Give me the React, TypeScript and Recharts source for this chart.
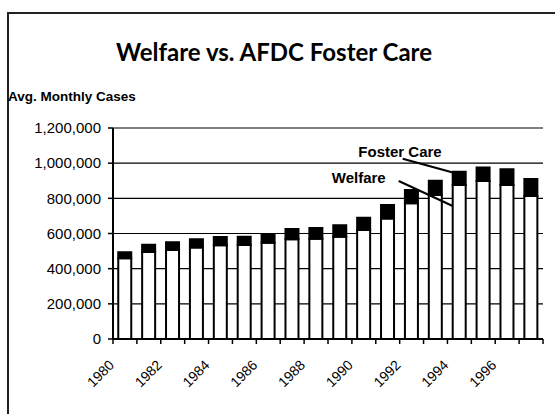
import { BarChart, Bar, XAxis, YAxis, CartesianGrid, LabelList } from 'recharts';

const years = [
  '1980', '1981', '1982', '1983', '1984', '1985', '1986', '1987', '1988',
  '1989', '1990', '1991', '1992', '1993', '1994', '1995', '1996', '1997',
];
// avg. monthly cases
const welfare = [
  459000, 495000, 506000, 521000, 533000, 535000, 548000, 567000, 570000,
  582000, 620000, 686000, 772000, 819000, 876000, 899000, 876000, 813000,
];
const fosterCare = [
  34000, 41000, 44000, 46000, 47000, 47000, 49000, 59000, 61000,
  65000, 70000, 76000, 75000, 81000, 75000, 77000, 89000, 97000,
];
const yTicks = [0, 200000, 400000, 600000, 800000, 1000000, 1200000];

const data = years.map((year, i) => ({
  year,
  welfare: welfare[i],
  fosterCare: fosterCare[i],
}));

const CHART_W = 555;
const CHART_H = 414;
const margin = { top: 128, right: 12, bottom: 15, left: 0 };
const Y_AXIS_W = 113;
const PLOT_W = CHART_W - margin.left - margin.right - Y_AXIS_W;
const HALF_BAND = PLOT_W / years.length / 2;
const LABEL_INDEX = 14;

const font = 'Arial, "Liberation Sans", Helvetica, sans-serif';

function YearTick(props: any) {
  const { x, y, payload, index } = props;
  const last = index === years.length - 1;
  const tx = x - 10;
  const ty = y + 27;
  return (
    <g>
      <line x1={x - HALF_BAND} x2={x - HALF_BAND} y1={y} y2={y + 5} stroke="#000" strokeWidth={1.5} />
      {last && (
        <line x1={x + HALF_BAND} x2={x + HALF_BAND} y1={y} y2={y + 5} stroke="#000" strokeWidth={1.5} />
      )}
      {index % 2 === 0 && (
        <text
          x={tx}
          y={ty}
          transform={`rotate(-45, ${tx}, ${ty})`}
          textAnchor="end"
          fontSize={14}
          fontFamily={font}
          fill="#000"
        >
          {payload.value}
        </text>
      )}
    </g>
  );
}

function FosterLabel(props: any) {
  const { x, y, index } = props;
  if (index !== LABEL_INDEX) return null;
  return (
    <g>
      <line x1={x - 50} y1={y - 13} x2={x + 1} y2={y + 1} stroke="#000" strokeWidth={2} />
      <text x={x - 11} y={y - 15} textAnchor="end" fontSize={15} fontWeight="bold" fontFamily={font} fill="#000">
        Foster Care
      </text>
    </g>
  );
}

function WelfareLabel(props: any) {
  const { x, y, index } = props;
  if (index !== LABEL_INDEX) return null;
  return (
    <g>
      <line x1={x - 54} y1={y - 4} x2={x} y2={y + 21} stroke="#000" strokeWidth={2} />
      <text x={x - 67} y={y - 2} textAnchor="end" fontSize={15} fontWeight="bold" fontFamily={font} fill="#000">
        Welfare
      </text>
    </g>
  );
}

export default function App() {
  return (
    <div
      style={{
        position: 'absolute',
        left: 0,
        top: 0,
        width: CHART_W,
        height: CHART_H,
        overflow: 'hidden',
        background: '#fff',
      }}
    >
      <div
        style={{
          position: 'absolute',
          left: 7,
          top: 12,
          width: 600,
          height: 500,
          borderTop: '2px solid #222',
          borderLeft: '2px solid #222',
        }}
      />
      <div
        style={{
          position: 'absolute',
          left: 0,
          width: 548,
          top: 37,
          textAlign: 'center',
          fontFamily: 'Lato, "Open Sans", sans-serif',
          fontWeight: 'bold',
          fontSize: 24,
          color: '#000',
        }}
      >
        Welfare vs. AFDC Foster Care
      </div>
      <div
        style={{
          position: 'absolute',
          left: 8,
          top: 89,
          fontFamily: font,
          fontWeight: 'bold',
          fontSize: 13.5,
          color: '#000',
        }}
      >
        Avg. Monthly Cases
      </div>
      <div style={{ position: 'absolute', left: 0, top: 0 }}>
        <BarChart width={CHART_W} height={CHART_H} data={data} margin={margin} barCategoryGap="22%">
          <CartesianGrid vertical={false} stroke="#000" strokeWidth={1.2} />
          <XAxis
            dataKey="year"
            interval={0}
            tickSize={0}
            tickMargin={0}
            tickLine={false}
            height={60}
            axisLine={{ stroke: '#000', strokeWidth: 2 }}
            tick={<YearTick />}
          />
          <YAxis
            domain={[0, 1200000]}
            ticks={yTicks}
            width={Y_AXIS_W}
            tickSize={5}
            tickMargin={7}
            axisLine={{ stroke: '#000', strokeWidth: 2 }}
            tickLine={{ stroke: '#000', strokeWidth: 1.5 }}
            tick={{ fill: '#000', fontSize: 15, fontFamily: font }}
            tickFormatter={(v: number) => v.toLocaleString('en-US')}
          />
          <YAxis
            yAxisId="frame"
            orientation="right"
            width={0}
            tick={false}
            tickLine={false}
            axisLine={{ stroke: '#000', strokeWidth: 2 }}
          />
          <Bar dataKey="welfare" stackId="a" fill="#fff" stroke="#000" strokeWidth={2} isAnimationActive={false}>
            <LabelList dataKey="welfare" content={<WelfareLabel />} />
          </Bar>
          <Bar dataKey="fosterCare" stackId="a" fill="#000" stroke="#000" strokeWidth={2} isAnimationActive={false}>
            <LabelList dataKey="fosterCare" content={<FosterLabel />} />
          </Bar>
        </BarChart>
      </div>
    </div>
  );
}
